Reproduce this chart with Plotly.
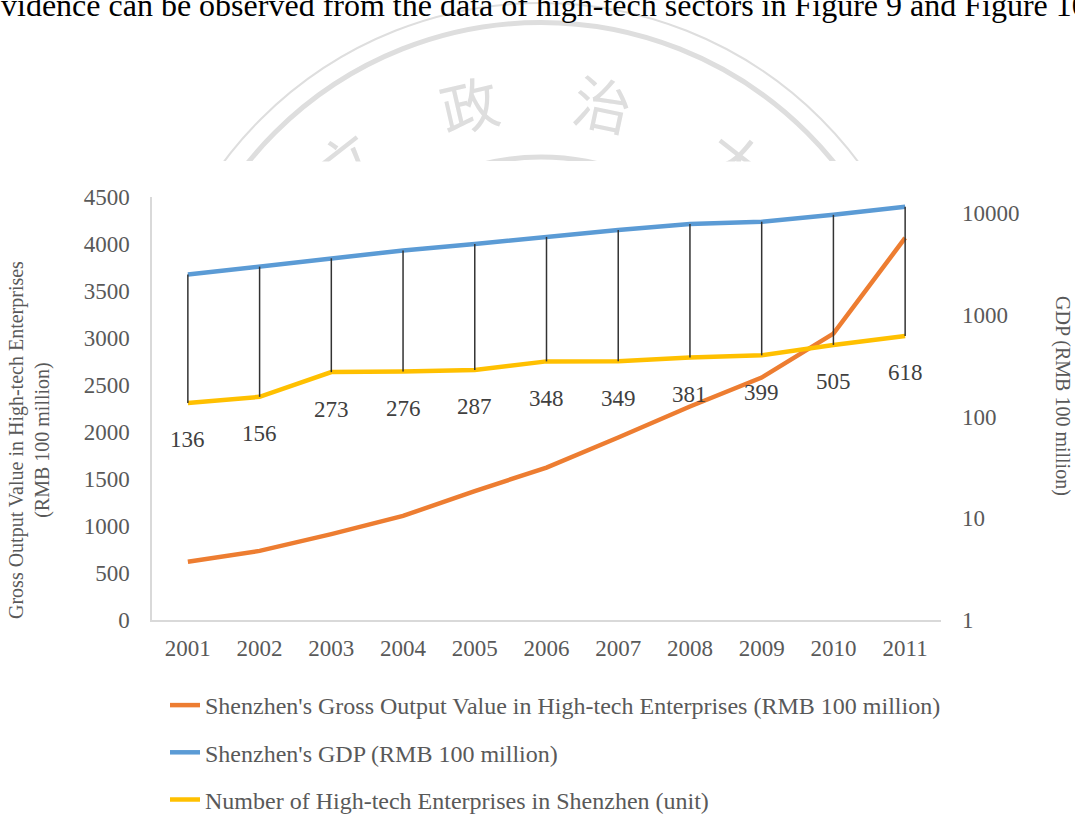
import math
import plotly.graph_objects as go

W, H = 1075, 815

# ---------------- data ----------------
years = ["2001", "2002", "2003", "2004", "2005", "2006", "2007", "2008", "2009", "2010", "2011"]
gross_output = [620, 735, 913, 1107, 1372, 1621, 1942, 2271, 2579, 3046, 4065]
gdp = [2482, 2970, 3586, 4282, 4951, 5814, 6802, 7787, 8201, 9582, 11502]
num_enterprises = [136, 156, 273, 276, 287, 348, 349, 381, 399, 505, 618]

left_ticks = [0, 500, 1000, 1500, 2000, 2500, 3000, 3500, 4000, 4500]
right_ticks = [1, 10, 100, 1000, 10000]
right_tick_text = ["1", "10", "100", "1000", "10000"]

name_out = "Shenzhen's Gross Output Value in High-tech Enterprises (RMB 100 million)"
name_gdp = "Shenzhen's GDP (RMB 100 million)"
name_num = "Number of High-tech Enterprises in Shenzhen (unit)"

FONT = "Liberation Serif, Times New Roman, serif"
GREY = "#595959"
ORANGE = "#ED7D31"
BLUE = "#5B9BD5"
YELLOW = "#FFC000"


def px(x):
    return x / W


def py(y):
    return 1 - y / H


fig = go.Figure()

# GDP line (right log axis)
fig.add_trace(go.Scatter(x=years, y=gdp, yaxis="y2", mode="lines", name=name_gdp,
                         line=dict(color=BLUE, width=4.5), legendrank=2, legendgroup="b"))
# Number of enterprises (right log axis)
fig.add_trace(go.Scatter(x=years, y=num_enterprises, yaxis="y2", mode="lines", name=name_num,
                         line=dict(color=YELLOW, width=4.5), legendrank=3, legendgroup="c"))
# high-low drop lines between GDP and enterprise count
hx, hy = [], []
for yr, g, n in zip(years, gdp, num_enterprises):
    hx += [yr, yr, None]
    hy += [g, n, None]
fig.add_trace(go.Scatter(x=hx, y=hy, yaxis="y2", mode="lines", showlegend=False,
                         line=dict(color="#333333", width=1.5), hoverinfo="skip"))
# Gross output (left axis)
fig.add_trace(go.Scatter(x=years, y=gross_output, mode="lines", name=name_out,
                         line=dict(color=ORANGE, width=4.5), legendrank=1, legendgroup="a"))

# ---------------- watermark ----------------
cx, cy = 541, 399
WM = "#dedede"
shapes = []
for r, w in [(396, 2), (376.5, 5), (242, 5)]:
    shapes.append(dict(type="circle", xref="paper", yref="paper",
                       x0=px(cx - r), x1=px(cx + r), y0=py(cy + r), y1=py(cy - r),
                       line=dict(color=WM, width=w), layer="below"))
shapes.append(dict(type="rect", xref="paper", yref="paper", x0=0, x1=1, y0=0, y1=py(161),
                   fillcolor="white", line=dict(width=0), layer="below"))

annotations = []
for ch, x, y, a in [("政", 469, 103, -13), ("治", 603, 102, 12), ("立", 345, 160, -38), ("大", 737, 160, 38)]:
    annotations.append(dict(text=ch, x=px(x), y=py(y), xref="paper", yref="paper",
                            xanchor="center", yanchor="middle", showarrow=False, textangle=a,
                            font=dict(family="Noto Sans CJK TC", size=58, color=WM)))
for x in (345, 737):
    annotations.append(dict(text=" ", x=px(x), y=py(161), xref="paper", yref="paper",
                            xanchor="center", yanchor="top", showarrow=False,
                            width=150, height=44, bgcolor="white", borderpad=0))

# top body text (cut off by the page edge, as in the source page)
annotations.append(dict(text="vidence can be observed from the data of high-tech sectors in Figure 9 and Figure 10",
                        x=px(-1), y=py(5), xref="paper", yref="paper", xanchor="left", yanchor="middle",
                        showarrow=False, font=dict(family="Liberation Serif", size=32, color="black")))

# data labels for enterprise counts
for i, n in enumerate(num_enterprises):
    annotations.append(dict(text=str(n), x=i, y=math.log10(n), xref="x", yref="y2",
                            showarrow=False, yshift=-37,
                            font=dict(family=FONT, size=23, color="#404040")))

# axis titles
annotations.append(dict(text="Gross Output Value in High-tech Enterprises<br>(RMB 100 million)",
                        x=px(29), y=py(440), xref="paper", yref="paper", xanchor="center", yanchor="middle",
                        showarrow=False, textangle=-90,
                        font=dict(family=FONT, size=20, color=GREY)))
annotations.append(dict(text="GDP (RMB 100 million)",
                        x=px(1063), y=py(396), xref="paper", yref="paper", xanchor="center", yanchor="middle",
                        showarrow=False, textangle=90,
                        font=dict(family=FONT, size=20, color=GREY)))

fig.update_layout(
    width=W, height=H,
    margin=dict(l=0, r=0, t=0, b=0, autoexpand=False),
    paper_bgcolor="white", plot_bgcolor="white",
    font=dict(family=FONT, color=GREY, size=23),
    xaxis=dict(domain=[px(152), px(941)], type="category", range=[-0.5, 10.5],
               showline=True, linecolor="#d9d9d9", linewidth=1.5, showgrid=False,
               ticks="", tickfont=dict(size=23, color=GREY), ticklabelstandoff=7,
               fixedrange=True),
    yaxis=dict(domain=[py(620), py(197)], range=[0, 4500], tickvals=left_ticks,
               showline=True, linecolor="#d9d9d9", linewidth=1.5, showgrid=False, zeroline=False,
               ticks="", tickfont=dict(size=23, color=GREY), ticklabelstandoff=16),
    yaxis2=dict(overlaying="y", side="right", type="log", range=[0, 4.157],
                tickvals=right_ticks, ticktext=right_tick_text,
                showline=False, showgrid=False, zeroline=False,
                ticks="", tickfont=dict(size=23, color=GREY), ticklabelstandoff=20),
    legend=dict(x=px(165), y=py(683), xanchor="left", yanchor="top",
                font=dict(family=FONT, size=24, color=GREY),
                tracegroupgap=13, bgcolor="rgba(0,0,0,0)", itemwidth=30),
    shapes=shapes,
    annotations=annotations,
    showlegend=True,
)

fig.write_html("out.html")
